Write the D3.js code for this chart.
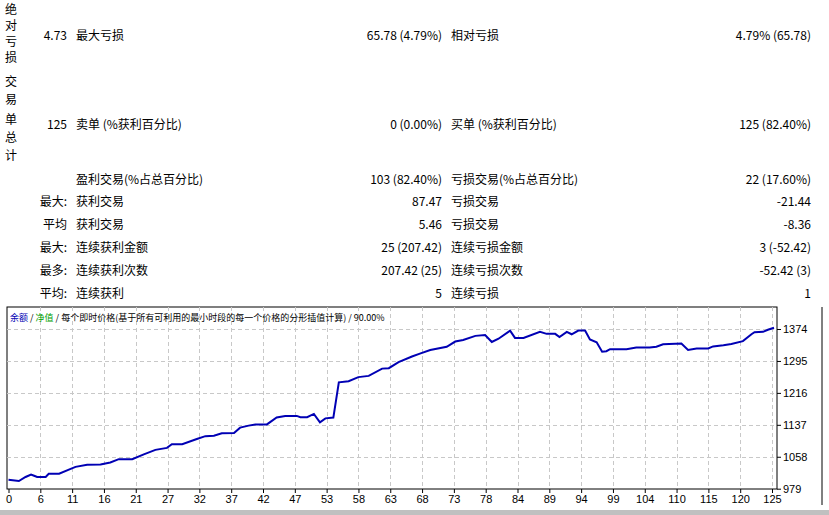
<!DOCTYPE html>
<html><head><meta charset="utf-8">
<script src="https://cdn.jsdelivr.net/npm/d3@7"></script>
<style>body{margin:0;background:#fff;}svg{display:block;font-family:"Noto Sans CJK SC","DejaVu Sans",sans-serif;}</style>
</head><body><svg id="c" width="829" height="515"></svg>
<script>
// Stats table rows: [rowLabel, label1, value1, label2, value2, y]
const statLabels = ["", "", "", "最大:", "平均", "最大:", "最多:", "平均:"];
const statLeftNames = ["最大亏损", "卖单 (%获利百分比)", "盈利交易(%占总百分比)", "获利交易", "获利交易", "连续获利金额", "连续获利次数", "连续获利"];
const statLeftValues = ["65.78 (4.79%)", "0 (0.00%)", "103 (82.40%)", "87.47", "5.46", "25 (207.42)", "207.42 (25)", "5"];
const statRightNames = ["相对亏损", "买单 (%获利百分比)", "亏损交易(%占总百分比)", "亏损交易", "亏损交易", "连续亏损金额", "连续亏损次数", "连续亏损"];
const statRightValues = ["4.79% (65.78)", "125 (82.40%)", "22 (17.60%)", "-21.44", "-8.36", "3 (-52.42)", "-52.42 (3)", "1"];
const firstColValues = ["4.73", "125", "", "", "", "", "", ""];
const rowY = [36, 125, 180, 202, 225, 248, 271, 294];
const verticalHeads = [["绝","对","亏","损"], ["交","易","单","总","计"]];

// Balance curve: trade number and balance
const trades = [0,1.7,2.8,3.7,4.2,4.7,6.1,6.6,8.3,10.2,11,12.9,15.1,16.7,18.1,20.3,22.2,24.1,26,26.8,28.5,30.9,32.3,33.7,35,37,38,39.4,40.5,42.4,44,45.4,47.3,47.9,49,50.1,51.1,52,53.3,54.2,55.8,57.4,59.1,61.3,62.4,64,66.2,67.5,69.2,71.9,73.3,74.6,76.6,78.2,79.3,80.4,82.3,83.1,84.5,87.2,88.3,89.7,90.4,91.6,92.4,93.5,94.6,95.4,96.5,97.4,98.1,98.7,101.4,103,105.2,106.3,107.4,110.4,111.5,112.9,114.8,115.6,117.3,118.6,120.5,121.9,122.4,123.8,124.6,125.6];
const balance = [1001,998,1008,1014,1011,1008,1008,1016,1016,1028,1033,1038,1039,1044,1052,1052,1064,1075,1080,1089,1089,1102,1109,1110,1116,1117,1130,1135,1138,1138,1155,1159,1159,1156,1156,1164,1143,1153,1155,1242,1245,1255,1258,1276,1277,1292,1306,1313,1322,1330,1343,1347,1357,1359,1342,1350,1370,1352,1352,1367,1362,1362,1354,1367,1361,1370,1370,1348,1341,1318,1319,1324,1324,1328,1328,1330,1336,1338,1322,1326,1326,1331,1334,1337,1344,1361,1366,1367,1372,1377];
const yTicks = [979,1058,1137,1216,1295,1374];
const xTickLabels = ["0","6","11","16","21","27","32","37","42","47","53","58","63","68","73","78","84","89","94","99","104","110","115","120","125"];

const svg = d3.select("#c");
const fs = 12;
const t = svg.append("g").attr("font-size", fs).attr("fill", "#000");
verticalHeads[0].forEach((c,i)=>t.append("text").attr("x",5).attr("y",14+i*16).text(c));
verticalHeads[1].forEach((c,i)=>t.append("text").attr("x",5).attr("y",86+i*18+ (i>=2?2:0)).text(c));
rowY.forEach((y,i)=>{
  const yy=y+4;
  t.append("text").attr("x",67).attr("y",yy).attr("text-anchor","end").text(statLabels[i]||firstColValues[i]);
  t.append("text").attr("x",76).attr("y",yy).text(statLeftNames[i]);
  t.append("text").attr("x",442).attr("y",yy).attr("text-anchor","end").text(statLeftValues[i]);
  t.append("text").attr("x",451).attr("y",yy).text(statRightNames[i]);
  t.append("text").attr("x",811).attr("y",yy).attr("text-anchor","end").text(statRightValues[i]);
});

// Chart
const L=7, R=777, T=307, B=489;
svg.append("rect").attr("x",L).attr("y",T).attr("width",R-L).attr("height",B-T).attr("fill","#fff").attr("stroke","#000");
const x = d3.scaleLinear().domain([0,125.6]).range([L+1.5,R-3]);
const y = d3.scaleLinear().domain([979,1374]).range([B-0.3,329]);
const xp = d3.scalePoint().domain(xTickLabels).range([8.5,772]);
const g = svg.append("g");
g.selectAll(".gy").data(yTicks.slice(1)).join("line").attr("x1",L).attr("x2",R).attr("y1",d=>Math.round(y(d))+.5).attr("y2",d=>Math.round(y(d))+.5).attr("stroke","#c8c8c8").attr("stroke-dasharray","4,3");
g.selectAll(".gx").data(xTickLabels.slice(1)).join("line").attr("x1",d=>Math.round(xp(d))+.5).attr("x2",d=>Math.round(xp(d))+.5).attr("y1",T).attr("y2",B).attr("stroke","#c8c8c8").attr("stroke-dasharray","4,3");
// axes
const ya = d3.axisRight(y).tickValues(yTicks).tickSize(4).tickFormat(d3.format("d"));
svg.append("g").attr("transform",`translate(${R},0)`).call(ya).call(a=>{a.select(".domain").remove();a.selectAll("text").attr("font-size",11).attr("x",6).attr("fill","#000");});
const xa = d3.axisBottom(xp).tickSize(4);
svg.append("g").attr("transform",`translate(0,${B})`).call(xa).call(a=>{a.select(".domain").remove();a.selectAll("text").attr("font-size",11).attr("dy","0.6em").attr("fill","#000");});
// line
const pts = trades.map((d,i)=>[d,balance[i]]);
svg.append("path").datum(pts).attr("d",d3.line().x(d=>x(d[0])).y(d=>y(d[1]))).attr("fill","none").attr("stroke","#0000b4").attr("stroke-width",2);
// header
const h = svg.append("text").attr("x",10).attr("y",321).attr("font-size",9);
h.append("tspan").attr("fill","#0000b4").text("余额");
h.append("tspan").attr("fill","#000").text(" / ");
h.append("tspan").attr("fill","#00a000").text("净值");
h.append("tspan").attr("fill","#000").text(" / 每个即时价格(基于所有可利用的最小时段的每一个价格的分形插值计算) / 90.00%");
// bottom strip
svg.append("rect").attr("x",0).attr("y",510).attr("width",829).attr("height",5).attr("fill","#c0c0c0");
svg.append("line").attr("x1",822).attr("x2",822).attr("y1",307).attr("y2",505).attr("stroke","#000");
</script></body></html>
